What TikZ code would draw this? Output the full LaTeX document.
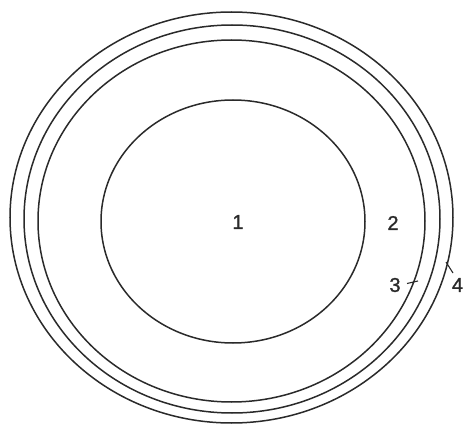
\documentclass[tikz,border=0pt]{standalone}
\usepackage{fontspec}
\setmainfont{Liberation Sans}
\newfontfamily\lblfont[FakeBold=1.2]{Liberation Sans}
\definecolor{ink}{HTML}{2A2A2A}
\begin{document}
\begin{tikzpicture}[x=1pt,y=-1pt,
  ring/.style={draw=ink,line width=1.5pt},
  lbl/.style={font=\lblfont\fontsize{20}{22}\selectfont,inner sep=0pt,text=ink},
  leader/.style={draw=ink,line width=1.1pt}]
\useasboundingbox (0,0) rectangle (464,428);
\draw[ring] (231.5,217.5) ellipse [x radius=221.5, y radius=205.5];
\draw[ring] (232,219) ellipse [x radius=208, y radius=194];
\draw[ring] (231.5,221) ellipse [x radius=193.5, y radius=181];
\draw[ring] (233,221.5) ellipse [x radius=132, y radius=121.5];
\node[lbl] (n1) at (238,222) {1};
\node[lbl] (n2) at (393,223) {2};
\node[lbl] (n3) at (395,285) {3};
\node[lbl] (n4) at (457.5,285) {4};
\coordinate (c3a) at (407,283.5);
\coordinate (c3b) at (418,281);
\coordinate (c4a) at (446,262);
\coordinate (c4b) at (453,273);
\draw[leader] (c3a) -- (c3b);
\draw[leader] (c4a) -- (c4b);
\end{tikzpicture}
\end{document}
